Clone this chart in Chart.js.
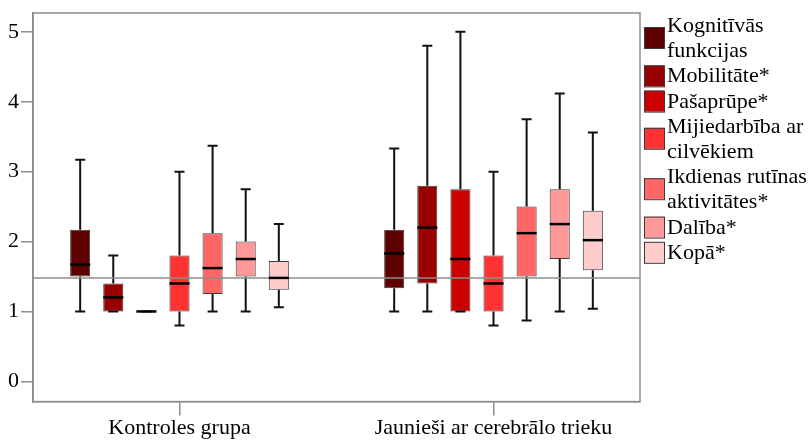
<!DOCTYPE html>
<html>
<head>
<meta charset="utf-8">
<script src="https://cdn.jsdelivr.net/npm/chart.js@4"></script>
<style>
  body { margin: 0; background: #fff; }
  #wrap { width: 810px; height: 440px; position: relative; }
</style>
</head>
<body>
<div id="wrap"><canvas id="boxChart"></canvas></div>
<script>
const groups = ["Kontroles grupa", "Jaunieši ar cerebrālo trieku"];
const domains = [
  ["Kognitīvās", "funkcijas"],
  ["Mobilitāte*"],
  ["Pašaprūpe*"],
  ["Mijiedarbība ar", "cilvēkiem"],
  ["Ikdienas rutīnas", "aktivitātes*"],
  ["Dalība*"],
  ["Kopā*"]
];
const colors = ["#5f0000", "#990000", "#cc0000", "#ff3333", "#ff6666", "#ff9999", "#ffcccc"];

// one value per domain, control group
const controlMin = [1.0, 1.0, 1.0, 0.8, 1.0, 1.0, 1.06];
const controlQ1 = [1.5, 1.0, 1.0, 1.0, 1.25, 1.5, 1.31];
const controlMedian = [1.67, 1.2, 1.0, 1.4, 1.62, 1.75, 1.48];
const controlQ3 = [2.17, 1.4, 1.0, 1.8, 2.12, 2.0, 1.72];
const controlMax = [3.17, 1.8, 1.0, 3.0, 3.37, 2.75, 2.25];

// one value per domain, cerebral palsy group
const cpMin = [1.0, 1.0, 1.0, 0.8, 0.87, 1.0, 1.04];
const cpQ1 = [1.33, 1.4, 1.0, 1.0, 1.5, 1.75, 1.59];
const cpMedian = [1.83, 2.2, 1.75, 1.4, 2.12, 2.25, 2.02];
const cpQ3 = [2.17, 2.8, 2.75, 1.8, 2.5, 2.75, 2.44];
const cpMax = [3.33, 4.8, 5.0, 3.0, 3.75, 4.12, 3.56];

const referenceLine = 1.48;
const yTicks = [0, 1, 2, 3, 4, 5];

const FONT = "Liberation Serif";

const datasets = domains.map(function (label, i) {
  return {
    label: label.join(" "),
    data: [[controlQ1[i], controlQ3[i]], [cpQ1[i], cpQ3[i]]],
    lows: [controlMin[i], cpMin[i]],
    medians: [controlMedian[i], cpMedian[i]],
    highs: [controlMax[i], cpMax[i]],
    backgroundColor: colors[i],
    borderColor: "#3a3a3a",
    borderWidth: 1,
    borderSkipped: false,
    categoryPercentage: 0.738,
    barPercentage: 0.606
  };
});

// SPSS puts the group centres a bit further apart than the default category offset
const categoryInset = 0.4665;
const spreadCategories = {
  id: "spreadCategories",
  afterLayout(chart) {
    const x = chart.scales.x;
    x._startValue = -categoryInset;
    x._valueRange = groups.length - 1 + 2 * categoryInset;
  }
};

const boxParts = {
  id: "boxParts",
  afterDatasetsDraw(chart) {
    const ctx = chart.ctx;
    const y = chart.scales.y;
    const area = chart.chartArea;
    ctx.save();

    chart.data.datasets.forEach(function (ds, di) {
      const meta = chart.getDatasetMeta(di);
      meta.data.forEach(function (bar, j) {
        const cap = bar.width / 4;
        const yLow = y.getPixelForValue(ds.lows[j]);
        const yHigh = y.getPixelForValue(ds.highs[j]);
        const yQ1 = y.getPixelForValue(ds.data[j][0]);
        const yQ3 = y.getPixelForValue(ds.data[j][1]);
        ctx.strokeStyle = "#111";
        ctx.lineWidth = 2;
        ctx.beginPath();
        ctx.moveTo(bar.x, yQ3); ctx.lineTo(bar.x, yHigh);
        ctx.moveTo(bar.x - cap, yHigh); ctx.lineTo(bar.x + cap, yHigh);
        ctx.moveTo(bar.x, yQ1); ctx.lineTo(bar.x, yLow);
        ctx.moveTo(bar.x - cap, yLow); ctx.lineTo(bar.x + cap, yLow);
        ctx.stroke();
      });
    });

    // reference line across the plot
    const yRef = y.getPixelForValue(referenceLine);
    ctx.strokeStyle = "#8c8c8c";
    ctx.lineWidth = 1.5;
    ctx.beginPath();
    ctx.moveTo(area.left, yRef);
    ctx.lineTo(area.right, yRef);
    ctx.stroke();

    chart.data.datasets.forEach(function (ds, di) {
      const meta = chart.getDatasetMeta(di);
      meta.data.forEach(function (bar, j) {
        const half = bar.width / 2;
        const yMed = y.getPixelForValue(ds.medians[j]);
        ctx.strokeStyle = "#000";
        ctx.lineWidth = 2.5;
        ctx.beginPath();
        ctx.moveTo(bar.x - half, yMed);
        ctx.lineTo(bar.x + half, yMed);
        ctx.stroke();
      });
    });

    // frame
    ctx.strokeStyle = "#8c8c8c";
    ctx.lineWidth = 1.5;
    ctx.strokeRect(area.left, area.top, area.right - area.left, area.bottom - area.top);
    ctx.restore();
  }
};

const sideLegend = {
  id: "sideLegend",
  afterDraw(chart) {
    const ctx = chart.ctx;
    const left = chart.chartArea.right + 4;
    const lineHeight = 25.2;
    let baseline = 32;
    ctx.save();
    ctx.font = "22px '" + FONT + "'";
    ctx.textBaseline = "alphabetic";
    chart.data.datasets.forEach(function (ds, i) {
      const lines = domains[i];
      const top = lines.length > 1 ? baseline - 5 : baseline - 17;
      ctx.fillStyle = ds.backgroundColor;
      ctx.fillRect(left, top, 20, 21);
      ctx.strokeStyle = "#3a3a3a";
      ctx.lineWidth = 1;
      ctx.strokeRect(left + 0.5, top + 0.5, 20, 21);
      ctx.fillStyle = "#000";
      lines.forEach(function (line) {
        ctx.fillText(line, left + 23, baseline);
        baseline += lineHeight;
      });
    });
    ctx.restore();
  }
};

new Chart(document.getElementById("boxChart"), {
  type: "bar",
  data: { labels: groups, datasets: datasets },
  options: {
    responsive: true,
    maintainAspectRatio: false,
    animation: false,
    layout: { padding: { top: 13, right: 170, bottom: 0, left: 6 } },
    plugins: {
      legend: { display: false },
      tooltip: { enabled: false }
    },
    scales: {
      x: {
        grid: { offset: false, drawOnChartArea: false, drawTicks: true, tickLength: 14, color: "#8c8c8c", lineWidth: 1.5 },
        border: { display: true, color: "#8c8c8c", width: 1.5 },
        ticks: { color: "#000", padding: -1, maxRotation: 0, font: { family: FONT, size: 22 } }
      },
      y: {
        min: -0.29,
        max: 5.27,
        afterBuildTicks: function (axis) {
          axis.ticks = yTicks.map(function (v) { return { value: v }; });
        },
        grid: { drawOnChartArea: false, drawTicks: true, tickLength: 12, color: "#8c8c8c", lineWidth: 1.5 },
        border: { display: true, color: "#8c8c8c", width: 1.5 },
        ticks: { color: "#000", padding: 2, font: { family: FONT, size: 22, lineHeight: 1 } }
      }
    }
  },
  plugins: [spreadCategories, boxParts, sideLegend]
});
</script>
</body>
</html>
